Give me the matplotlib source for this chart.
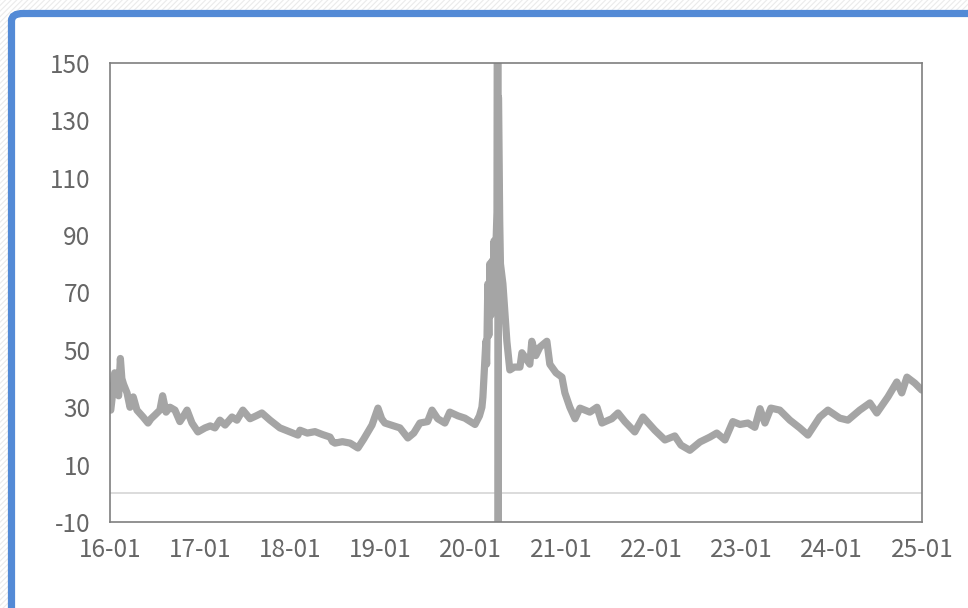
import matplotlib
matplotlib.use("Agg")
import matplotlib.pyplot as plt
import matplotlib.dates as mdates
from matplotlib.patches import FancyBboxPatch, Rectangle
import pandas as pd

plt.rcParams['font.family'] = ['Noto Sans CJK SC', 'DejaVu Sans']
plt.rcParams['font.weight'] = 'light'
plt.rcParams['axes.unicode_minus'] = False
plt.rcParams['hatch.linewidth'] = 0.8

# values (approximate)
dates = [
    "2016-01-04", "2016-01-12", "2016-01-20", "2016-01-27", "2016-02-05", "2016-02-12",
    "2016-02-18", "2016-02-25", "2016-03-10", "2016-03-22", "2016-04-04", "2016-04-19",
    "2016-05-14", "2016-06-03", "2016-06-15", "2016-07-01", "2016-07-21", "2016-08-01",
    "2016-08-15", "2016-08-31", "2016-09-20", "2016-10-10", "2016-10-25", "2016-11-08",
    "2016-11-28", "2016-12-22", "2017-01-20", "2017-02-10", "2017-03-01", "2017-03-21",
    "2017-04-11", "2017-05-09", "2017-05-29", "2017-06-22", "2017-07-21", "2017-08-15",
    "2017-09-07", "2017-10-10", "2017-11-19", "2017-12-30", "2018-01-31", "2018-02-08",
    "2018-03-10", "2018-04-10", "2018-05-10", "2018-06-10", "2018-06-20", "2018-06-30",
    "2018-07-30", "2018-08-30", "2018-10-01", "2018-10-25", "2018-11-27", "2018-12-21",
    "2019-01-05", "2019-01-18", "2019-03-20", "2019-04-21", "2019-05-15", "2019-06-09",
    "2019-07-10", "2019-07-28", "2019-08-20", "2019-09-18", "2019-10-08", "2019-11-10",
    "2019-12-08", "2020-01-18", "2020-02-05", "2020-02-15", "2020-02-19", "2020-03-02",
    "2020-03-05", "2020-03-10", "2020-03-14", "2020-03-18", "2020-03-22", "2020-03-27",
    "2020-03-31", "2020-04-04", "2020-04-08", "2020-04-16", "2020-04-20", "2020-04-21",
    "2020-04-22", "2020-04-27", "2020-04-30", "2020-05-10", "2020-05-26", "2020-06-07",
    "2020-06-25", "2020-07-18", "2020-07-26", "2020-08-27", "2020-09-04", "2020-09-20",
    "2020-10-07", "2020-11-04", "2020-11-16", "2020-12-11", "2021-01-04", "2021-01-16",
    "2021-02-05", "2021-02-26", "2021-03-18", "2021-04-27", "2021-05-26", "2021-06-15",
    "2021-07-25", "2021-08-19", "2021-09-16", "2021-10-26", "2021-11-28", "2022-01-15",
    "2022-02-25", "2022-04-06", "2022-05-01", "2022-06-06", "2022-07-17", "2022-08-26",
    "2022-09-23", "2022-10-26", "2022-11-27", "2022-12-26", "2023-01-27", "2023-02-24",
    "2023-03-17", "2023-04-06", "2023-04-30", "2023-06-05", "2023-07-16", "2023-08-25",
    "2023-09-27", "2023-11-14", "2023-12-17", "2024-02-03", "2024-03-07", "2024-04-24",
    "2024-06-04", "2024-07-02", "2024-08-16", "2024-09-21", "2024-10-11", "2024-11-01",
    "2024-12-03", "2024-12-31",
]
values = [
    29, 35, 42, 36, 34, 47,
    40, 38, 35, 30, 33.6, 29,
    26.6, 24.5, 26, 27.3, 29, 34,
    28.3, 30, 29, 25, 27, 29,
    24.5, 21.4, 22.8, 23.5, 22.8, 25.5,
    23.8, 26.6, 25.5, 29, 26, 27,
    28, 25.5, 22.8, 21.4, 20.3, 22,
    21, 21.5, 20.5, 19.6, 18, 17.5,
    18, 17.5, 15.8, 19, 23.8, 29.7,
    26, 24.5, 22.8, 19.3, 21, 24.5,
    25, 29, 26, 24.5, 28.3, 27,
    26.2, 24, 27, 30, 33.6, 53,
    45, 73, 55, 80, 62, 81,
    70, 88, 76, 98, 325, -40,
    138, 95, 80, 73, 53, 43,
    44, 44, 49, 45, 53, 48,
    51, 53, 45, 42, 40.5, 35,
    30, 26, 29.7, 28.3, 30, 24.5,
    26, 28, 25, 21.4, 26.6, 22,
    18.6, 20, 16.8, 15, 17.9, 19.6,
    21, 18.6, 25, 24, 24.5, 23,
    29.5, 24.5, 29.7, 29, 25.5, 22.8,
    20.3, 26.6, 29, 26.2, 25.5, 29,
    31.5, 28, 33.6, 38.8, 35, 40.5,
    38.4, 36,
]
year_ticks = [f"{y}-01-01" for y in range(2016, 2026)]
y_ticks = list(range(-10, 151, 20))

fig = plt.figure(figsize=(9.68, 6.08), dpi=100)

# screenshot frame: hatched background + blue rounded border
bg = Rectangle((0, 0), 1, 1, transform=fig.transFigure, facecolor="white",
               edgecolor="#ebebeb", hatch="//////", linewidth=0, zorder=-3)
fig.patches.append(bg)
frame = FancyBboxPatch((11.5 / 968, -0.1), 1.2, 1 - 13.5 / 608 + 0.1,
                       boxstyle="round,pad=0,rounding_size=0.012",
                       transform=fig.transFigure, facecolor="white",
                       edgecolor="#538ad6", linewidth=5.2, zorder=-2)
fig.patches.append(frame)

ax = fig.add_axes([110 / 968, 1 - 522 / 608, (922 - 110) / 968, (522 - 63) / 608])
ax.set_facecolor("white")

x = pd.to_datetime(dates)
ax.axhline(0, color="#d9d9d9", linewidth=1.3, zorder=1)
ax.plot(x, values, color="#a5a5a5", linewidth=5.2, solid_joinstyle="round",
        solid_capstyle="round", zorder=2)

ax.set_xlim(pd.Timestamp("2016-01-01"), pd.Timestamp("2025-01-01"))
ax.set_ylim(-10, 150)
ax.set_yticks(y_ticks)
ax.set_xticks(pd.to_datetime(year_ticks))
ax.xaxis.set_major_formatter(mdates.DateFormatter("%y-%m"))
ax.tick_params(axis="both", length=0, labelsize=17.5, labelcolor="#666666")
ax.tick_params(axis="y", pad=14)
ax.tick_params(axis="x", pad=11)
for s in ax.spines.values():
    s.set_color("#7f7f7f")
    s.set_linewidth(1.2)

fig.savefig("out.png", dpi=100)
